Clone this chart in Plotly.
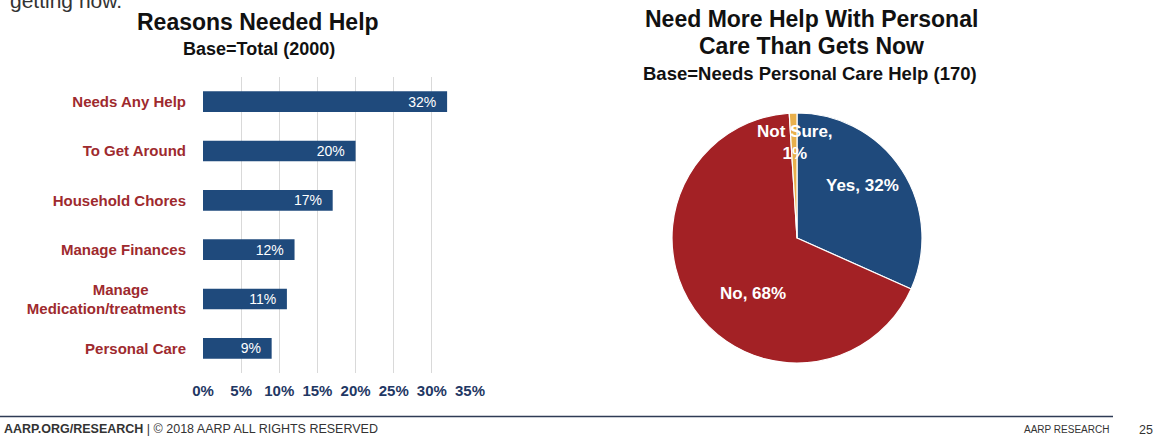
import plotly.graph_objects as go

W, H = 1162, 438

# ---- data ----
bar_categories = ["Needs Any Help", "To Get Around", "Household Chores",
                  "Manage Finances", "Manage" + "\u00a0" * 9 + "<br>Medication/treatments",
                  "Personal Care"]
bar_values = [32, 20, 17, 12, 11, 9]
bar_labels = ["32%", "20%", "17%", "12%", "11%", "9%"]
x_tick_values = [0, 5, 10, 15, 20, 25, 30, 35]
x_tick_labels = ["0%", "5%", "10%", "15%", "20%", "25%", "30%", "35%"]

pie_labels = ["Yes", "No", "Not Sure"]
pie_values = [32, 68, 1]
pie_text = ["Yes, 32%", "No, 68%", "Not Sure,<br>1%"]

NAVY = "#1F4A7C"
RED = "#A32125"
GOLD = "#E9B04C"
LABEL_RED = "#9E2A2E"
FONT = "Arial, Liberation Sans, sans-serif"


def px_x(p):
    return p / W


def px_y(p):
    return 1 - p / H


fig = go.Figure()

fig.add_trace(go.Bar(
    x=bar_values, y=bar_categories, orientation="h",
    marker=dict(color=NAVY, line=dict(width=0)),
    width=0.42,
    text=[t + "\u00a0\u00a0" for t in bar_labels], textposition="inside",
    insidetextanchor="end", texttemplate="%{text}",
    textfont=dict(color="white", size=14, family=FONT),
    constraintext="none",
    xaxis="x", yaxis="y", showlegend=False, hoverinfo="skip",
))

fig.add_trace(go.Pie(
    labels=pie_labels, values=pie_values, sort=False, direction="clockwise", rotation=0,
    marker=dict(colors=[NAVY, RED, GOLD], line=dict(color="white", width=1.2)),
    textinfo="none", showlegend=False, hoverinfo="skip",
    domain=dict(x=[px_x(672), px_x(922)], y=[px_y(363), px_y(113)]),
))

annotations = []


def add_text(text, x, y, size, color="#111111", bold=True, xanchor="center",
             yanchor="middle", family=FONT):
    annotations.append(dict(
        text=f"<b>{text}</b>" if bold else text,
        x=px_x(x), y=px_y(y), xref="paper", yref="paper",
        xanchor=xanchor, yanchor=yanchor, showarrow=False,
        font=dict(family=family, size=size, color=color),
    ))


# titles
add_text("getting now.", 8, 1, 21, color="#333333", bold=False, xanchor="left")
add_text("Reasons Needed Help", 258, 22, 23)
add_text("Base=Total (2000)", 259, 49, 18)
add_text("Need More Help With Personal", 811, 19, 23)
add_text("Care Than Gets Now", 811, 46, 23)
add_text("Base=Needs Personal Care Help (170)", 810, 74, 18.5)

# pie labels
add_text(pie_text[0], 862, 185, 17, color="white")
add_text(pie_text[1], 753, 293, 17, color="white")
add_text(pie_text[2], 795, 142, 17, color="white")

# footer
add_text("AARP.ORG/RESEARCH</b> | © 2018 AARP ALL RIGHTS RESERVED<b>", 2, 429, 12.5,
         color="#333333", xanchor="left")
add_text("AARP RESEARCH", 1111, 429, 10, color="#333333", bold=False, xanchor="right")
add_text("25", 1146, 430, 12.5, color="#333333", bold=False)

fig.update_layout(
    width=W, height=H,
    margin=dict(l=0, r=0, t=0, b=0, autoexpand=False),
    paper_bgcolor="white", plot_bgcolor="white",
    font=dict(family=FONT),
    annotations=annotations,
    shapes=[dict(type="line", xref="paper", yref="paper",
                 x0=0, x1=px_x(1113), y0=px_y(416.5), y1=px_y(416.5),
                 line=dict(color="#2E3B55", width=1.5))],
    xaxis=dict(
        domain=[px_x(203), px_x(470)], range=[0, 35],
        tickvals=x_tick_values, ticktext=x_tick_labels,
        showgrid=True, gridcolor="#D9D9D9", gridwidth=1,
        zeroline=False, showline=False, ticks="",
        tickfont=dict(family=FONT, size=15, color="#1F3864", weight="bold"),
        ticklabelstandoff=7, fixedrange=True, automargin=False,
    ),
    yaxis=dict(
        domain=[px_y(373), px_y(77)], autorange="reversed",
        showgrid=False, zeroline=False, showline=False, ticks="",
        tickfont=dict(family=FONT, size=15, color=LABEL_RED, weight="bold"),
        ticklabelstandoff=16, fixedrange=True, automargin=False,
    ),
)

fig.write_html(
    "out.html",
    config={"displayModeBar": False},
    post_script="document.body.style.margin='0';document.body.style.padding='0';"
                "document.body.style.overflow='hidden';"
                "document.documentElement.style.overflow='hidden';",
)
